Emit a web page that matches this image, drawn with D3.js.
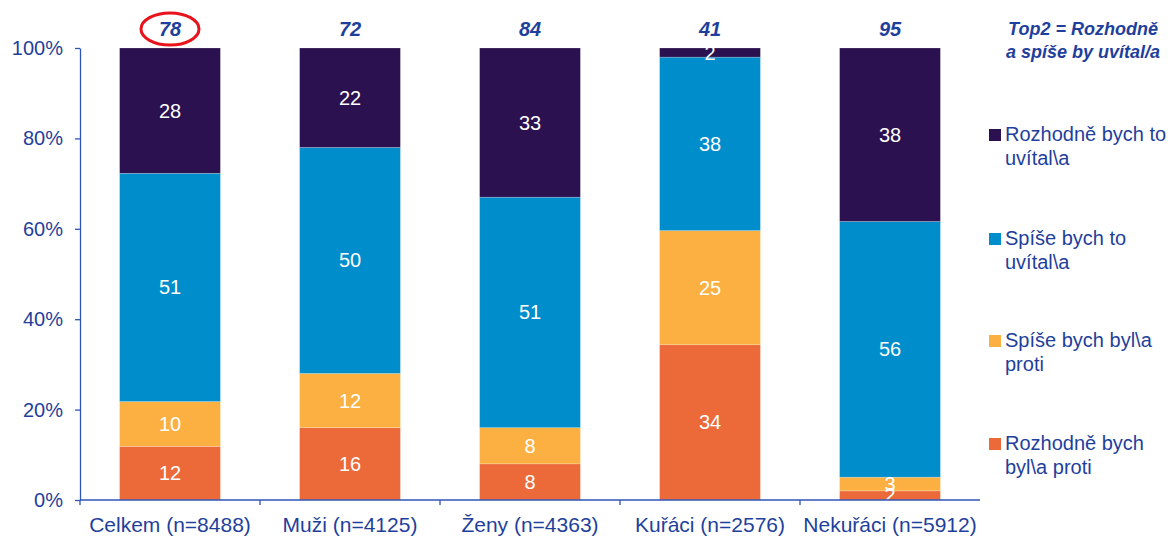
<!DOCTYPE html>
<html>
<head>
<meta charset="utf-8">
<script src="https://cdn.jsdelivr.net/npm/d3@7"></script>
<style>
  body { margin: 0; background: #fff; }
  text { font-family: "Liberation Sans", Arial, sans-serif; }
</style>
</head>
<body>
<div class="chart"></div>
<script>
var categories = ["Celkem (n=8488)", "Muži (n=4125)", "Ženy (n=4363)", "Kuřáci (n=2576)", "Nekuřáci (n=5912)"];
var seriesNames = ["Rozhodně bych byl\\a proti", "Spíše bych byl\\a proti", "Spíše bych to uvítal\\a", "Rozhodně bych to uvítal\\a"];
var rozhodneProti = [12, 16, 8, 34, 2];
var spiseProti = [10, 12, 8, 25, 3];
var spiseUvital = [51, 50, 51, 38, 56];
var rozhodneUvital = [28, 22, 33, 2, 38];
var top2 = [78, 72, 84, 41, 95];
var yTicks = [0, 0.2, 0.4, 0.6, 0.8, 1];

var legendLines = [
    ["Rozhodně bych", "byl\\a proti"],
    ["Spíše bych byl\\a", "proti"],
    ["Spíše bych to", "uvítal\\a"],
    ["Rozhodně bych to", "uvítal\\a"]
];
var colors = ["#ec6a39", "#fbb041", "#008dcb", "#2b1150"];
var textBlue = "#1f3f9c";

var width = 1168, height = 537;
var margin = {left: 80, right: 188, top: 48, bottom: 37};

var svg = d3.select(".chart").append("svg")
    .attr("width", width)
    .attr("height", height);

var rows = categories.map(function (c, i) {
    return {cat: c, s0: rozhodneProti[i], s1: spiseProti[i], s2: spiseUvital[i], s3: rozhodneUvital[i]};
});
var keys = ["s0", "s1", "s2", "s3"];
var stacked = d3.stack().keys(keys).offset(d3.stackOffsetExpand)(rows);

var x = d3.scaleBand()
    .domain(categories)
    .range([margin.left, width - margin.right])
    .paddingInner(0.44)
    .paddingOuter(0.22);

var y = d3.scaleLinear()
    .domain([0, 1])
    .range([height - margin.bottom, margin.top]);

// bars
var layer = svg.append("g").selectAll("g")
    .data(stacked)
    .enter()
    .append("g")
    .attr("fill", function (d, i) { return colors[i]; });

layer.selectAll("rect")
    .data(function (d) { return d; })
    .enter()
    .append("rect")
    .attr("x", function (d) { return x(d.data.cat); })
    .attr("width", x.bandwidth())
    .attr("y", function (d) { return y(d[1]); })
    .attr("height", function (d) { return y(d[0]) - y(d[1]); })
    .attr("stroke", "#ffffff")
    .attr("stroke-opacity", 0.35)
    .attr("stroke-width", 0.6);

// segment labels
stacked.forEach(function (s) {
    svg.append("g").selectAll("text")
        .data(s)
        .enter()
        .append("text")
        .attr("x", function (d) { return x(d.data.cat) + x.bandwidth() / 2; })
        .attr("y", function (d) { return (y(d[0]) + y(d[1])) / 2 + 7; })
        .attr("text-anchor", "middle")
        .attr("fill", "#fff")
        .style("font-size", "20px")
        .text(function (d) { return d.data[s.key]; });
});

// axes
var yAxis = svg.append("g")
    .attr("transform", "translate(" + margin.left + ",0)")
    .call(d3.axisLeft(y).tickValues(yTicks).tickFormat(d3.format(".0%")).tickSize(5).tickSizeOuter(0));
yAxis.select(".domain").attr("stroke", "#2f55b4").attr("stroke-width", 1.3);
yAxis.selectAll(".tick line").attr("stroke", "#2f55b4").attr("stroke-width", 1.3);
yAxis.selectAll(".tick text")
    .attr("x", -17)
    .attr("fill", textBlue)
    .style("font-size", "20px")
    .style("font-family", "Liberation Sans, Arial, sans-serif");

var xAxisG = svg.append("g")
    .attr("transform", "translate(0," + (height - margin.bottom) + ")");
xAxisG.append("line")
    .attr("x1", margin.left).attr("x2", width - margin.right)
    .attr("stroke", "#2f55b4").attr("stroke-width", 1.6);
var step = x.step();
xAxisG.selectAll(".sep")
    .data(categories)
    .enter()
    .append("line")
    .attr("x1", function (d) { return x(d) - (step - x.bandwidth()) / 2; })
    .attr("x2", function (d) { return x(d) - (step - x.bandwidth()) / 2; })
    .attr("y1", 0).attr("y2", 5)
    .attr("stroke", "#2f55b4").attr("stroke-width", 1.3);
xAxisG.selectAll(".cat")
    .data(categories)
    .enter()
    .append("text")
    .attr("x", function (d) { return x(d) + x.bandwidth() / 2; })
    .attr("y", 32)
    .attr("text-anchor", "middle")
    .attr("fill", textBlue)
    .style("font-size", "21px")
    .text(function (d) { return d; });

// top2 labels
svg.append("g").selectAll("text")
    .data(top2)
    .enter()
    .append("text")
    .attr("x", function (d, i) { return x(categories[i]) + x.bandwidth() / 2; })
    .attr("y", 36)
    .attr("text-anchor", "middle")
    .attr("fill", textBlue)
    .style("font-size", "20px")
    .style("font-weight", "bold")
    .style("font-style", "italic")
    .text(function (d) { return d; });

svg.append("ellipse")
    .attr("cx", x(categories[0]) + x.bandwidth() / 2)
    .attr("cy", 29)
    .attr("rx", 29)
    .attr("ry", 16)
    .attr("fill", "none")
    .attr("stroke", "#e8141b")
    .attr("stroke-width", 3);

// top2 note
var note = svg.append("text")
    .attr("text-anchor", "middle")
    .attr("fill", textBlue)
    .style("font-size", "18px")
    .style("font-weight", "bold")
    .style("font-style", "italic");
note.append("tspan").attr("x", 1083).attr("y", 35).text("Top2 = Rozhodně");
note.append("tspan").attr("x", 1083).attr("y", 58).text("a spíše by uvítal/a");

// legend (top to bottom: reverse of stack order)
var legendY = [141, 245, 347, 450];
var legend = svg.append("g").selectAll("g")
    .data(d3.range(4).reverse())
    .enter()
    .append("g")
    .attr("transform", function (d, i) { return "translate(989," + legendY[i] + ")"; });
legend.append("rect")
    .attr("x", 0).attr("y", -12)
    .attr("width", 12).attr("height", 12)
    .attr("fill", function (d) { return colors[d]; });
legend.append("text")
    .attr("fill", textBlue)
    .style("font-size", "20px")
    .each(function (d) {
        var t = d3.select(this);
        legendLines[d].forEach(function (line, j) {
            t.append("tspan").attr("x", 16).attr("y", j * 24).text(line);
        });
    });
</script>
</body>
</html>
